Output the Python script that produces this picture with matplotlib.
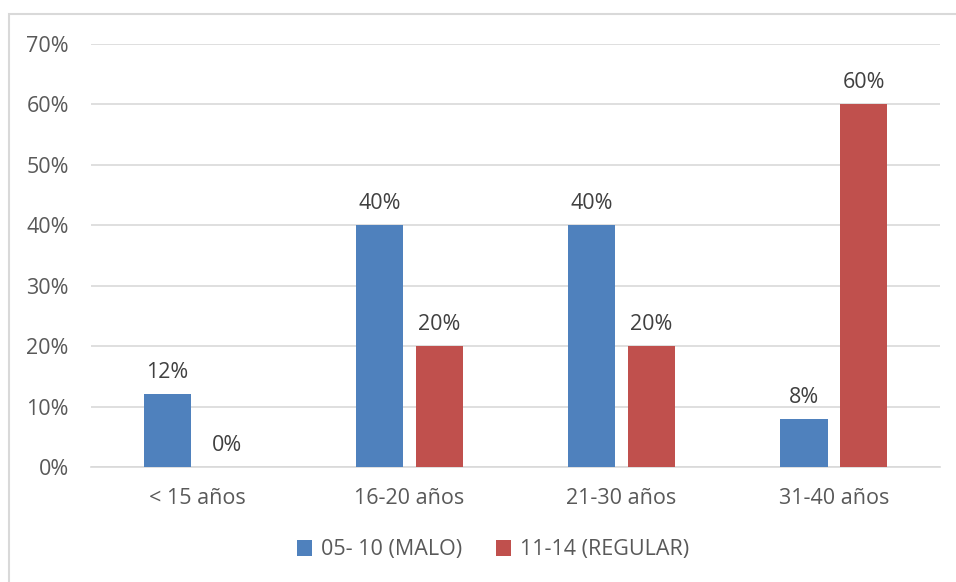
import matplotlib
matplotlib.use("Agg")
import matplotlib.pyplot as plt
from matplotlib.patches import Rectangle
import numpy as np

categories = ["< 15 años", "16-20 años", "21-30 años", "31-40 años"]
series_names = ["05- 10 (MALO)", "11-14 (REGULAR)"]
malo = [12, 40, 40, 8]
regular = [0, 20, 20, 60]
yticks = [0, 10, 20, 30, 40, 50, 60, 70]

blue = "#4F81BD"
red = "#C0504D"
text_color = "#595959"
grid_color = "#D9D9D9"

plt.rcParams["font.family"] = ["Open Sans", "DejaVu Sans"]
fs = 15.5

W, H = 956, 582
fig = plt.figure(figsize=(W / 100, H / 100), dpi=100)
ax = fig.add_axes([91 / W, 1 - 467 / H, (940 - 91) / W, (467 - 44) / H])

x = np.arange(len(categories))
width = 0.222
offset = 0.141
b1 = ax.bar(x - offset, malo, width, color=blue, label=series_names[0], zorder=3)
b2 = ax.bar(x + offset, regular, width, color=red, label=series_names[1], zorder=3)

for bars, vals in ((b1, malo), (b2, regular)):
    for rect, v in zip(bars, vals):
        ax.annotate(f"{v}%", (rect.get_x() + rect.get_width() / 2, v),
                    xytext=(0, 8), textcoords="offset points",
                    ha="center", va="bottom", fontsize=fs, color="#404040")

ax.set_xlim(-0.5, len(categories) - 0.5)
ax.set_ylim(0, 70)
ax.set_yticks(yticks)
ax.set_yticklabels([f"{t}%" for t in yticks], fontsize=fs, color=text_color)
ax.set_xticks(x)
ax.set_xticklabels(categories, fontsize=fs, color=text_color)
ax.tick_params(axis="both", length=0)
ax.tick_params(axis="y", pad=16)
ax.tick_params(axis="x", pad=15)
ax.yaxis.grid(True, color=grid_color, linewidth=1.2, zorder=0)
ax.set_axisbelow(True)
for s in ("top", "right", "left"):
    ax.spines[s].set_visible(False)
ax.spines["bottom"].set_color(grid_color)
ax.spines["bottom"].set_linewidth(1.2)

leg = fig.legend(handles=[b1, b2], loc="center", bbox_to_anchor=(493 / W, 1 - 550 / H),
                 ncol=2, frameon=False, fontsize=fs, handlelength=0.7, handleheight=0.7,
                 handletextpad=0.4, columnspacing=1.6, labelcolor=text_color)

# chart frame
fig.patches.append(Rectangle((9 / W, -0.01), 2, 1 - 14 / H + 0.01, transform=fig.transFigure,
                             fill=False, edgecolor=grid_color, linewidth=1.5))

fig.savefig("out.png", dpi=100, facecolor="white")
